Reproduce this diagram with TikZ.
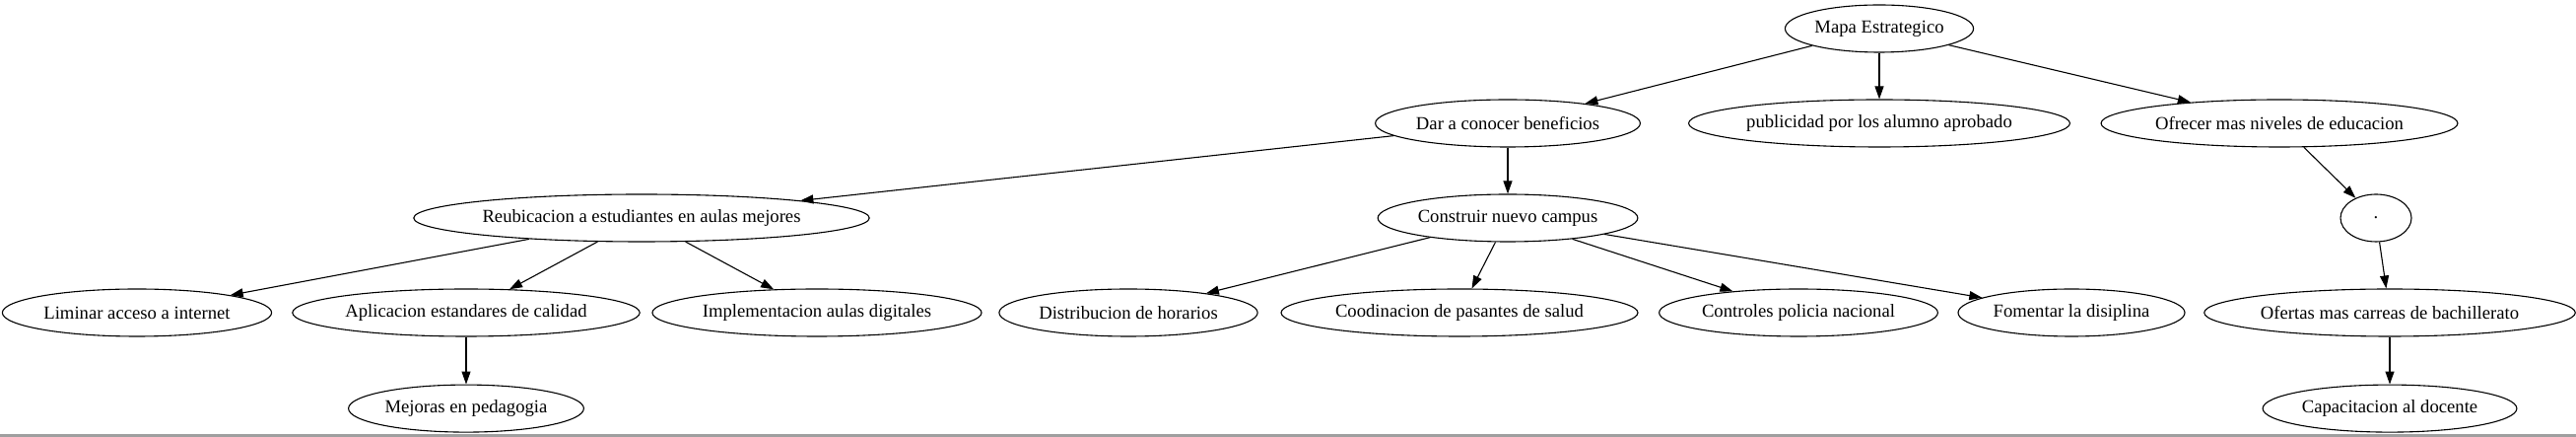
\documentclass[tikz,border=0pt]{standalone}
\usepackage{fontspec}
\setmainfont{Liberation Serif}
\usetikzlibrary{arrows.meta, positioning, shapes.geometric}

\begin{document}
\begin{tikzpicture}[x=1pt, y=1pt,
    topic/.style={draw, ellipse, line width=1.1pt, inner xsep=2pt, inner ysep=0pt, minimum width=72pt, minimum height=48pt, font=\fontsize{18.67}{22}\selectfont},
    arrow/.style={-{Triangle[length=13pt, width=9pt]}, line width=1.1pt}
  ]
  \useasboundingbox (0,0) rectangle (2614,443);
  \fill[gray!75] (0,0) rectangle (2614,2.5);

  \node[topic] (mapa) at (1907,414) {Mapa Estrategico};
  \node[topic] (dar) at (1530,318) {Dar a conocer beneficios};
  \node[topic] (publi) at (1907,318) {publicidad por los alumno aprobado};
  \node[topic] (ofrecer) at (2313,318) {Ofrecer mas niveles de educacion};
  \node[topic] (reubic) at (651,222) {Reubicacion a estudiantes en aulas mejores};
  \node[topic] (campus) at (1530,222) {Construir nuevo campus};
  \node[topic] (punto) at (2411,222) {.};
  \node[topic] (liminar) at (139,126) {Liminar acceso a internet};
  \node[topic] (aplic) at (473,126) {Aplicacion estandares de calidad};
  \node[topic] (implem) at (829,126) {Implementacion aulas digitales};
  \node[topic] (horarios) at (1145,126) {Distribucion de horarios};
  \node[topic] (pasantes) at (1481,126) {Coodinacion de pasantes de salud};
  \node[topic] (policia) at (1825,126) {Controles policia nacional};
  \node[topic] (disciplina) at (2102,126) {Fomentar la disiplina};
  \node[topic] (ofertas) at (2425,126) {Ofertas mas carreas de bachillerato};
  \node[topic, below=48pt of aplic] (pedagogia) {Mejoras en pedagogia};
  \node[topic, below=48pt of ofertas] (docente) {Capacitacion al docente};

  \draw[arrow] (mapa) -- (dar);
  \draw[arrow] (mapa) -- (publi);
  \draw[arrow] (mapa) -- (ofrecer);
  \draw[arrow] (dar) -- (reubic);
  \draw[arrow] (dar) -- (campus);
  \draw[arrow] (ofrecer) -- (punto);
  \draw[arrow] (reubic) -- (liminar);
  \draw[arrow] (reubic) -- (aplic);
  \draw[arrow] (reubic) -- (implem);
  \draw[arrow] (aplic) -- (pedagogia);
  \draw[arrow] (campus) -- (horarios);
  \draw[arrow] (campus) -- (pasantes);
  \draw[arrow] (campus) -- (policia);
  \draw[arrow] (campus) -- (disciplina);
  \draw[arrow] (punto) -- (ofertas);
  \draw[arrow] (ofertas) -- (docente);
\end{tikzpicture}
\end{document}
